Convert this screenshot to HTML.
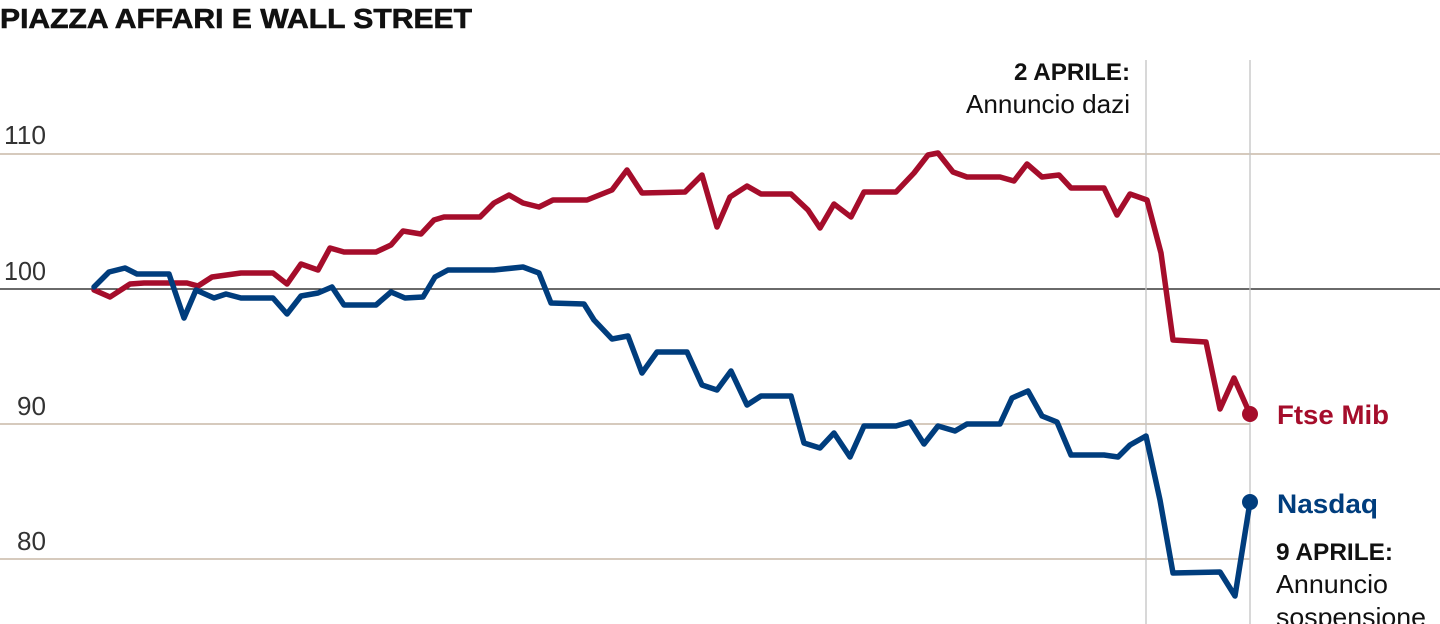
<!DOCTYPE html>
<html><head><meta charset="utf-8"><style>
html,body{margin:0;padding:0;background:#fff;}
svg{display:block;}
text{font-family:"Liberation Sans",sans-serif;}
</style></head><body>
<svg width="1440" height="624" viewBox="0 0 1440 624" xmlns="http://www.w3.org/2000/svg">
<text x="0" y="28" font-size="28" font-weight="bold" textLength="472" lengthAdjust="spacingAndGlyphs" fill="#111" stroke="#111" stroke-width="0.6">PIAZZA AFFARI E WALL STREET</text>
<g stroke="#c9b9a7" stroke-width="1.5">
<line x1="0" y1="154" x2="1440" y2="154"/>
<line x1="0" y1="424" x2="1250" y2="424"/>
<line x1="0" y1="559" x2="1250" y2="559"/>
</g>
<line x1="0" y1="289" x2="1440" y2="289" stroke="#111" stroke-width="1.3"/>
<g stroke="#c4c4c4" stroke-width="1.3">
<line x1="1146" y1="60" x2="1146" y2="624"/>
<line x1="1250" y1="60" x2="1250" y2="624"/>
</g>
<g font-size="26" fill="#333">
<text x="4" y="144" textLength="42" lengthAdjust="spacingAndGlyphs">110</text>
<text x="4" y="280" textLength="42" lengthAdjust="spacingAndGlyphs">100</text>
<text x="17" y="415" textLength="29" lengthAdjust="spacingAndGlyphs">90</text>
<text x="17" y="550" textLength="29" lengthAdjust="spacingAndGlyphs">80</text>
</g>
<text x="1130" y="80" font-size="24" font-weight="bold" text-anchor="end" fill="#111" textLength="116" lengthAdjust="spacingAndGlyphs">2 APRILE:</text>
<text x="1130" y="113" font-size="26" text-anchor="end" fill="#111" textLength="164" lengthAdjust="spacingAndGlyphs">Annuncio dazi</text>
<polyline fill="none" stroke="#a50d2b" stroke-width="5.5" stroke-linejoin="round" stroke-linecap="round" points="94,290 110,297 130,284 144,283 187,283 198,286 212,277 241,273 273,273 287,284 301,264 318,270 330,248 344,252 376,252 391,245 403,231 421,234 434,220 444,217 480,217 494,203 509,195 523,203 539,207 553,200 587,200 612,190 627,170 642,193 685,192 702,175 717,227 730,197 747,186 761,194 791,194 808,210 820,228 834,204 851,217 864,192 896,192 914,173 928,155 938,153 953,172 967,177 1000,177 1014,181 1027,164 1042,177 1059,175 1071,188 1104,188 1117,215 1130,194 1147,200 1161,253 1173,340 1206,342 1220,409 1234,378 1250,414"/>
<polyline fill="none" stroke="#003d7d" stroke-width="5.5" stroke-linejoin="round" stroke-linecap="round" points="94,287 109,272 125,268 137,274 169,274 184,318 196,290 214,298 226,294 241,298 273,298 287,314 301,296 318,293 332,287 344,305 376,305 391,292 405,298 423,297 435,277 448,270 494,270 523,267 539,273 551,303 584,304 594,320 612,339 628,336 642,373 657,352 687,352 702,385 717,390 731,371 747,405 761,396 791,396 804,443 820,448 834,433 850,457 864,426 896,426 910,422 924,444 938,426 955,431 967,424 1000,424 1012,398 1028,391 1042,416 1057,422 1071,455 1104,455 1118,457 1130,445 1146,436 1160,500 1173,573 1220,572 1235,596 1250,502"/>
<circle cx="1250" cy="414" r="8" fill="#a50d2b"/>
<circle cx="1250" cy="502" r="8" fill="#003d7d"/>
<text x="1277" y="424" font-size="27" font-weight="bold" fill="#a50d2b" textLength="112" lengthAdjust="spacingAndGlyphs">Ftse Mib</text>
<text x="1277" y="513" font-size="27" font-weight="bold" fill="#003d7d" textLength="101" lengthAdjust="spacingAndGlyphs">Nasdaq</text>
<text x="1276" y="560" font-size="24" font-weight="bold" fill="#111" textLength="117" lengthAdjust="spacingAndGlyphs">9 APRILE:</text>
<text x="1276" y="593" font-size="26" fill="#111" textLength="112" lengthAdjust="spacingAndGlyphs">Annuncio</text>
<text x="1276" y="626" font-size="26" fill="#111" textLength="150" lengthAdjust="spacingAndGlyphs">sospensione</text>
</svg>
</body></html>
